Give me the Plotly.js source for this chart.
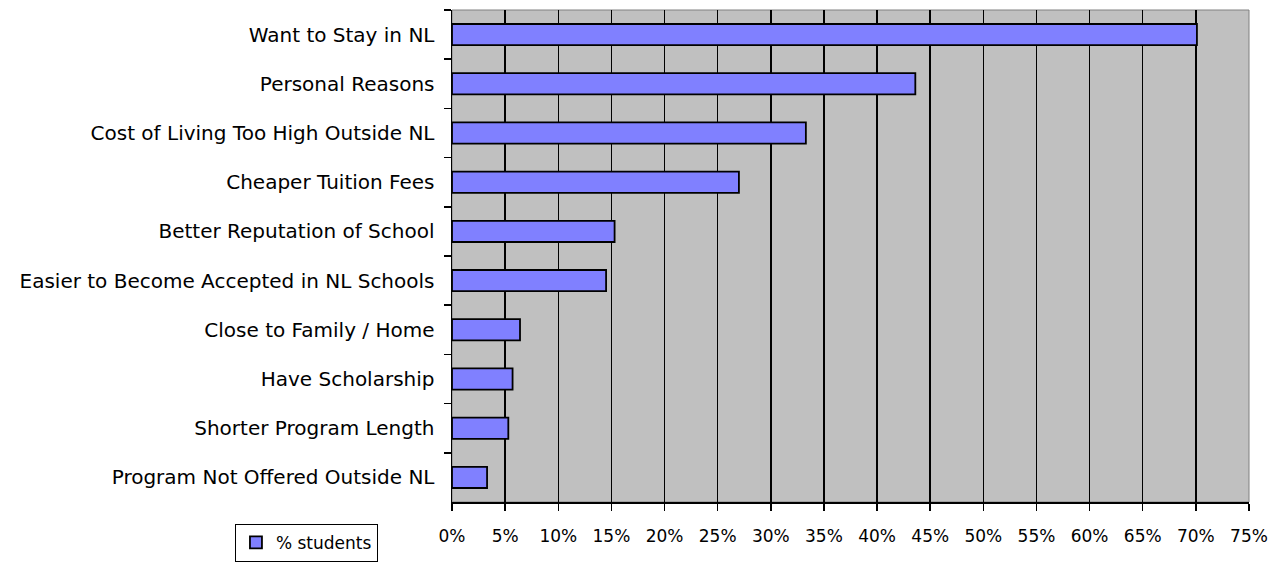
<!DOCTYPE html>
<html>
<head>
<meta charset="utf-8">
<script src="https://cdn.plot.ly/plotly-3.0.1.min.js"></script>
<style>html,body{margin:0;padding:0;background:#fff;}#chart{width:1279px;height:565px;}</style>
</head>
<body>
<div id="chart"></div>
<script>
const categories = [
  "Want to Stay in NL",
  "Personal Reasons",
  "Cost of Living Too High Outside NL",
  "Cheaper Tuition Fees",
  "Better Reputation of School",
  "Easier to Become Accepted in NL Schools",
  "Close to Family / Home",
  "Have Scholarship",
  "Shorter Program Length",
  "Program Not Offered Outside NL"
];
const pctStudents = [70.1, 43.6, 33.3, 27.0, 15.3, 14.5, 6.4, 5.7, 5.3, 3.3];
const seriesName = "% students";
const xTickVals = [0,5,10,15,20,25,30,35,40,45,50,55,60,65,70,75];
const xTickText = xTickVals.map(v => v + "%");

const fam = "DejaVu Sans, Verdana, sans-serif";
const font = {family: fam, size: 17, color: "#000"};

const trace = {
  type: "bar",
  orientation: "h",
  y: categories,
  x: pctStudents,
  name: seriesName,
  marker: {color: "#8080FF", line: {color: "#000", width: 1.8}},
  showlegend: true,
  hoverinfo: "x+y"
};

const layout = {
  width: 1279, height: 565,
  margin: {l: 452, r: 30, t: 10, b: 63, autoexpand: false},
  paper_bgcolor: "#fff",
  plot_bgcolor: "#C0C0C0",
  font: font,
  bargap: 0.57,
  showlegend: true,
  legend: {
    xref: "container", yref: "container",
    x: 0.1837, y: 0.073, xanchor: "left", yanchor: "top",
    bgcolor: "#fff", bordercolor: "#000", borderwidth: 1,
    font: {family: fam, size: 17, color: "#000"}, itemwidth: 30,
    tracegroupgap: 0
  },
  xaxis: {
    range: [0, 75],
    tickvals: xTickVals, ticktext: xTickText,
    showgrid: true, gridcolor: "#000", gridwidth: 1.5,
    zeroline: false,
    showline: true, linecolor: "#000", linewidth: 1.5,
    ticks: "outside", ticklen: 7, tickcolor: "#000", tickwidth: 1.5,
    ticklabelstandoff: 11,
    tickfont: {family: fam, size: 17, color: "#000"},
    automargin: false,
    fixedrange: true
  },
  yaxis: {
    type: "category",
    autorange: "reversed",
    showgrid: false, zeroline: false,
    showline: true, linecolor: "#000", linewidth: 1.5,
    ticks: "outside", ticklen: 7, tickcolor: "#000", tickwidth: 1.5,
    tickson: "boundaries",
    ticklabelstandoff: 12,
    tickfont: {family: fam, size: 20, color: "#000"},
    automargin: false,
    fixedrange: true
  },
  shapes: [{
    type: "rect", xref: "paper", yref: "paper", x0: 0, x1: 1, y0: 0, y1: 1,
    line: {color: "#808080", width: 1}, layer: "below"
  }]
};

Plotly.newPlot("chart", [trace], layout, {displayModeBar: false, staticPlot: true});
</script>
</body>
</html>
